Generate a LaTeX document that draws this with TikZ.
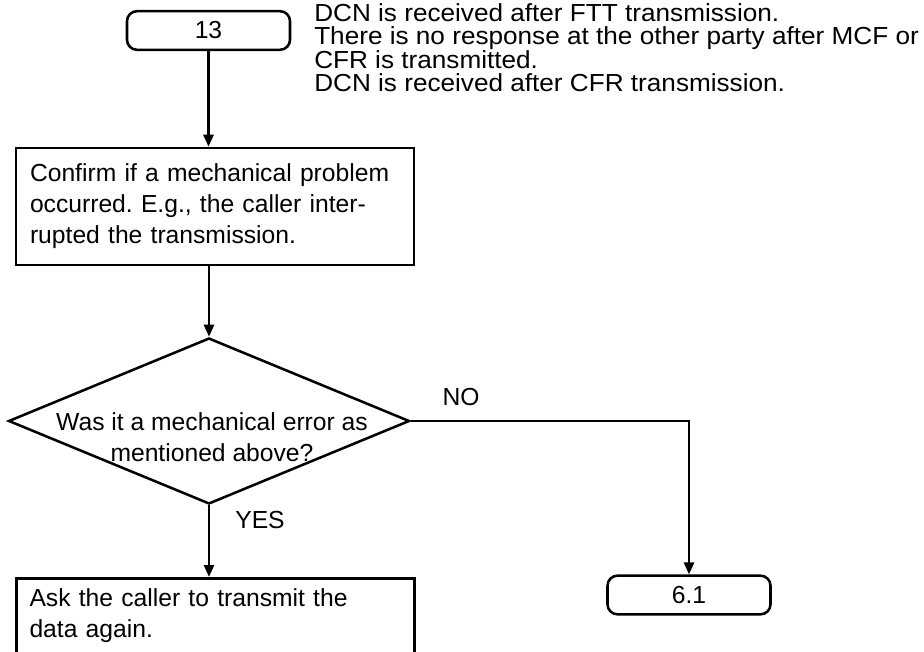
\documentclass[tikz,border=0pt]{standalone}
\usepackage{fontspec}
\setmainfont{Liberation Sans}
\newfontfamily\notefont[FakeStretch=1.06]{Liberation Sans}
\usetikzlibrary{arrows.meta,positioning,shapes.geometric}
\frenchspacing

\begin{document}
\begin{tikzpicture}[
    x=0.75pt, y=-0.75pt,
    every node/.style={font=\fontsize{18.5}{23.25}\selectfont},
    flow/.style={-{Triangle[length=9pt, width=7.5pt]}, line width=1.9pt},
    termbox/.style={draw, line width=1.9pt, rounded corners=7.5pt, minimum width=122.25pt, minimum height=29pt, inner sep=0pt},
    stepbox/.style={draw, line width=1.9pt, minimum width=298.5pt, inner sep=0pt},
    plain/.style={inner sep=0pt, align=left},
    decbox/.style={draw, diamond, line width=1.9pt, minimum width=300.75pt, minimum height=124.5pt, inner sep=0pt}
  ]
    \useasboundingbox (0,0) rectangle (924,652);

    \node[termbox] (start) at (208.5,30.5) {13};
    \node[plain, anchor=north west, font=\notefont\fontsize{18.5}{17.6}\selectfont] (notes) at (314,3) {DCN is received after FTT transmission.\\There is no response at the other party after MCF or\\CFR is transmitted.\\DCN is received after CFR transmission.};

    \node[stepbox, minimum height=87.75pt, text width=277.5pt, align=left] (confirm) at (215,206.5) {Confirm if a mechanical problem\\occurred. E.g., the caller inter-\\rupted the transmission.};

    \node[decbox] (check) at (209,421) {};
    \node[plain, align=center] (checktext) at (212,437.5) {Was it a mechanical error as\\mentioned above?};
    \node[inner sep=0pt] (no) at (461,397) {NO};
    \node[inner sep=0pt] (yes) at (260,520) {YES};

    \node[stepbox, anchor=north, minimum height=75pt] (ask) at (215.5,577) {};
    \node[plain, anchor=north west, text width=277.5pt] (asktext) at ([xshift=10.5pt, yshift=-8.25pt]ask.north west) {Ask the caller to transmit the\\data again.};

    \node[termbox] (result) at (689,595) {6.1};

    \draw[flow] (start) -- (start |- confirm.north);
    \draw[flow] (check.north |- confirm.south) -- (check.north);
    \draw[flow] (check.south) -- (check.south |- ask.north);
    \draw[flow] (check.east) -| (result.north);
  \end{tikzpicture}
\end{document}
